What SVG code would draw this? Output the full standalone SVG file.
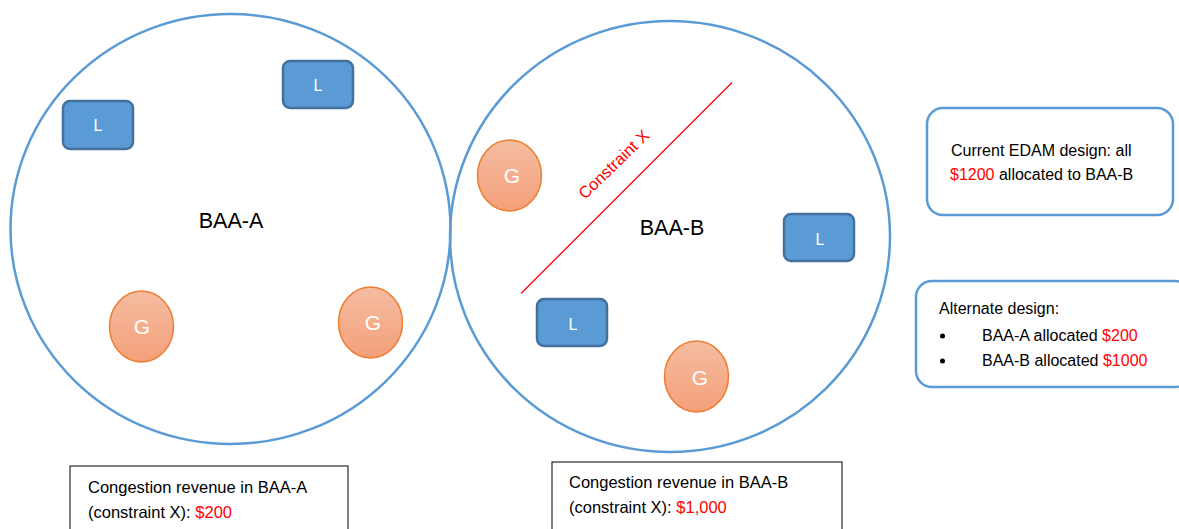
<svg xmlns="http://www.w3.org/2000/svg" width="1179" height="529" viewBox="0 0 1179 529">
<style>
.baa{fill:none;stroke:#5B9BD5;stroke-width:2.5}
.load{fill:#5B9BD5;stroke:#41719C;stroke-width:2.5}
.gen{fill:url(#gg);stroke:#ED7D31;stroke-width:1.5}
.lt{font-family:"Liberation Sans",Arial,sans-serif;font-size:16px;fill:#fff;text-anchor:middle}
.gt{font-family:"Liberation Sans",Arial,sans-serif;font-size:21px;fill:#fff;text-anchor:middle}
.big{font-family:"Liberation Sans",Arial,sans-serif;font-size:21.5px;fill:#000;text-anchor:middle}
.t{font-family:"Liberation Sans",Arial,sans-serif;font-size:16px;fill:#000}
.b{font-size:16.5px}
.r{fill:#FF0000}
.note{fill:#fff;stroke:#5B9BD5;stroke-width:2.5}
.cbox{fill:#fff;stroke:#000;stroke-width:1}
</style>
<defs>
<linearGradient id="gg" x1="0" y1="0" x2="0" y2="1">
<stop offset="0" stop-color="#F5BCA0"/>
<stop offset="1" stop-color="#F4A07A"/>
</linearGradient>
</defs>
<g id="baa-a">
<ellipse class="baa" cx="230.5" cy="229" rx="220" ry="215"/>
<text class="big" x="231" y="228">BAA-A</text>
</g>
<g id="baa-b">
<ellipse class="baa" cx="670" cy="236.5" rx="220" ry="215.5"/>
<text class="big" x="672" y="235">BAA-B</text>
</g>
<g id="constraint-x">
<line x1="521" y1="293.5" x2="732" y2="82.5" stroke="#FF0000" stroke-width="1.3"/>
<text class="t r" style="font-size:16.5px" transform="translate(585,200) rotate(-44)">Constraint X</text>
</g>
<g id="a-load-1"><rect class="load" x="63" y="101" width="70" height="48" rx="7"/><text class="lt" x="98" y="131">L</text></g>
<g id="a-load-2"><rect class="load" x="283" y="61" width="70" height="47" rx="7"/><text class="lt" x="318" y="91">L</text></g>
<g id="a-gen-1"><ellipse class="gen" cx="141.5" cy="326.5" rx="32" ry="35.5"/><text class="gt" x="142" y="334">G</text></g>
<g id="a-gen-2"><ellipse class="gen" cx="370.5" cy="322.5" rx="32" ry="35.5"/><text class="gt" x="373" y="330">G</text></g>
<g id="b-gen-1"><ellipse class="gen" cx="509.5" cy="175.5" rx="32" ry="35.5"/><text class="gt" x="512" y="183">G</text></g>
<g id="b-gen-2"><ellipse class="gen" cx="696.5" cy="376.5" rx="32" ry="35.5"/><text class="gt" x="700" y="385">G</text></g>
<g id="b-load-1"><rect class="load" x="537" y="299" width="70" height="47" rx="7"/><text class="lt" x="573" y="330">L</text></g>
<g id="b-load-2"><rect class="load" x="784" y="214" width="70" height="47" rx="7"/><text class="lt" x="820" y="245">L</text></g>
<g id="note-current">
<rect class="note" x="927" y="108" width="246" height="107" rx="16"/>
<text class="t" x="951" y="156">Current EDAM design: all</text>
<text class="t" x="950" y="180"><tspan class="r">$1200</tspan> allocated to BAA-B</text>
</g>
<g id="note-alternate">
<rect class="note" x="916" y="281" width="275" height="106" rx="16"/>
<text class="t" x="939" y="314">Alternate design:</text>
<circle cx="942.5" cy="336" r="2.5" fill="#000"/>
<circle cx="942.5" cy="361" r="2.5" fill="#000"/>
<text class="t" x="982" y="341">BAA-A allocated <tspan class="r">$200</tspan></text>
<text class="t" x="982" y="366">BAA-B allocated <tspan class="r">$1000</tspan></text>
</g>
<g id="revenue-a">
<rect class="cbox" x="70" y="466" width="278" height="80"/>
<text class="t b" x="88" y="493">Congestion revenue in BAA-A</text>
<text class="t b" x="88" y="518">(constraint X): <tspan class="r">$200</tspan></text>
</g>
<g id="revenue-b">
<rect class="cbox" x="552" y="462" width="290" height="80"/>
<text class="t b" x="569" y="488">Congestion revenue in BAA-B</text>
<text class="t b" x="569" y="513">(constraint X): <tspan class="r">$1,000</tspan></text>
</g>
</svg>
